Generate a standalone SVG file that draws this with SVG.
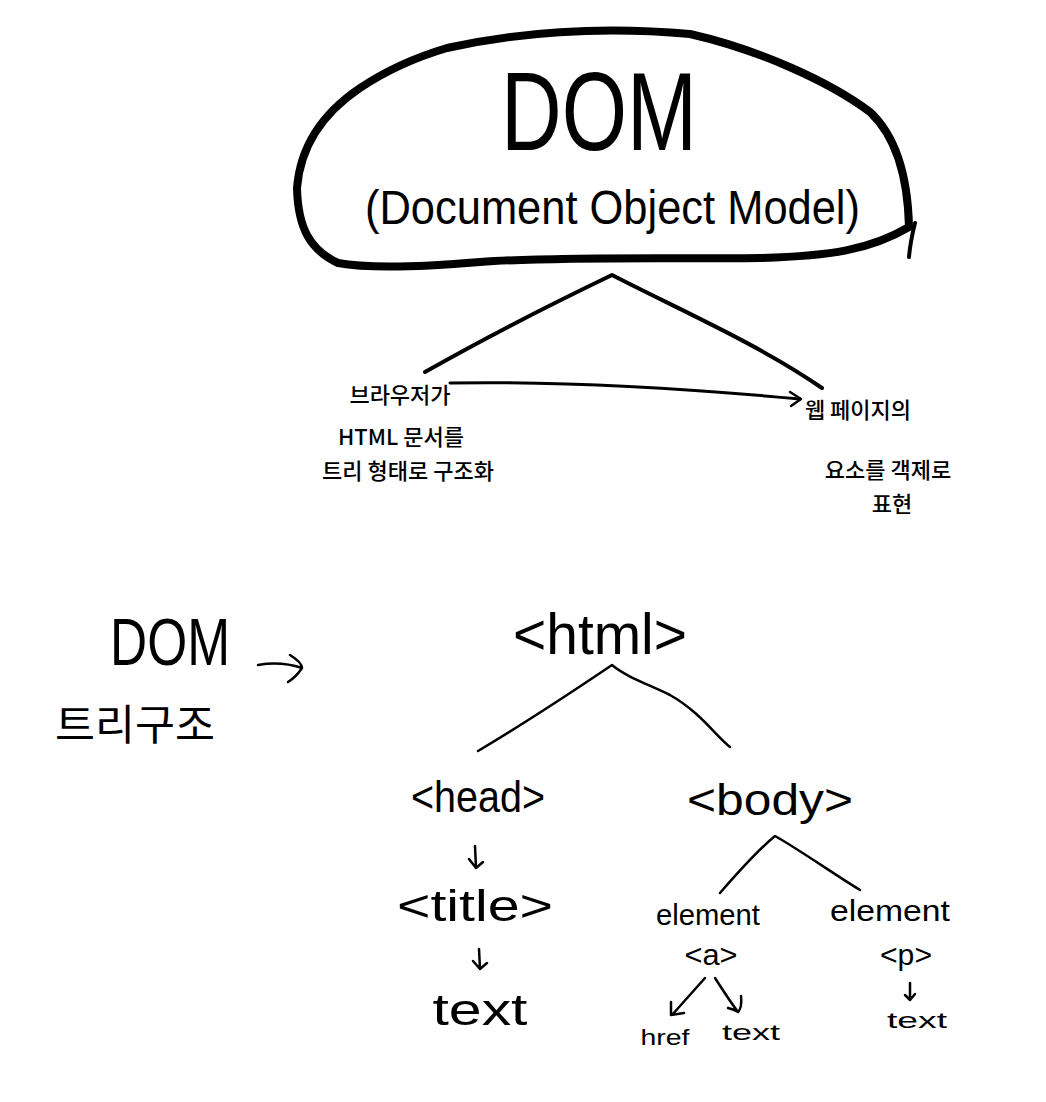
<svg xmlns="http://www.w3.org/2000/svg" width="1046" height="1102" viewBox="0 0 1046 1102">
<style>
.t{font-family:"Liberation Sans","Noto Sans CJK KR",sans-serif;fill:#000;}
.k{font-family:"Noto Sans CJK KR","Liberation Sans",sans-serif;fill:#000;font-weight:500;}
.k2{font-family:"Noto Sans CJK KR","Liberation Sans",sans-serif;fill:#000;font-weight:normal;}
.ln{fill:none;stroke:#000;stroke-linecap:round;stroke-linejoin:round;}
</style>
<rect width="1046" height="1102" fill="#fff"/>
<g id="dom-cloud">
<path class="ln" stroke-width="8" d="M447,48 C520,32 600,26 690,34 C760,50 830,82 870,112 C900,140 908,185 909,227 C870,250 830,256 760,258 C680,259 560,256 480,262 C420,267 370,269 338,263 C310,250 298,228 297,188 C300,150 320,115 360,88 C390,68 420,56 447,48 Z"/>
<path class="ln" stroke-width="4" d="M915,223 C912,235 910,245 909,257"/>
<text class="t" x="501" y="150" font-size="112" textLength="196" lengthAdjust="spacingAndGlyphs">DOM</text>
<text class="t" x="365" y="224" font-size="48" textLength="495" lengthAdjust="spacingAndGlyphs">(Document Object Model)</text>
</g>
<g id="left-desc">
<text class="k" x="400" y="403" font-size="22" text-anchor="middle">브라우저가</text>
<text class="k" x="401" y="445" font-size="22" text-anchor="middle">HTML 문서를</text>
<text class="k" x="408" y="479" font-size="22" text-anchor="middle">트리 형태로 구조화</text>
</g>
<g id="right-desc">
<text class="k" x="858" y="418" font-size="22" text-anchor="middle">웹 페이지의</text>
<text class="k" x="888" y="478" font-size="22" text-anchor="middle">요소를 객제로</text>
<text class="k" x="892" y="512" font-size="22" text-anchor="middle">표현</text>
</g>
<g id="dom-label">
<text class="t" x="110" y="665" font-size="66" textLength="120" lengthAdjust="spacingAndGlyphs">DOM</text>
<text class="k2" x="55" y="740" font-size="42" textLength="160" lengthAdjust="spacingAndGlyphs">트리구조</text>
</g>
<g id="n-html"><text class="t" x="600" y="654" font-size="58" text-anchor="middle" textLength="174" lengthAdjust="spacingAndGlyphs">&lt;html&gt;</text></g>
<g id="n-head"><text class="t" x="478" y="812" font-size="44" text-anchor="middle" textLength="134" lengthAdjust="spacingAndGlyphs">&lt;head&gt;</text></g>
<g id="n-body"><text class="t" x="770" y="815" font-size="44" text-anchor="middle" textLength="166" lengthAdjust="spacingAndGlyphs">&lt;body&gt;</text></g>
<g id="n-title"><text class="t" x="475" y="921" font-size="44" text-anchor="middle" textLength="156" lengthAdjust="spacingAndGlyphs">&lt;title&gt;</text></g>
<g id="n-text1"><text class="t" x="480" y="1025" font-size="44" text-anchor="middle" textLength="95" lengthAdjust="spacingAndGlyphs">text</text></g>
<g id="n-element-a">
<text class="t" x="708" y="925" font-size="30" text-anchor="middle" textLength="104" lengthAdjust="spacingAndGlyphs">element</text>
<text class="t" x="711" y="965" font-size="30" text-anchor="middle" textLength="53" lengthAdjust="spacingAndGlyphs">&lt;a&gt;</text>
</g>
<g id="n-element-p">
<text class="t" x="890" y="921" font-size="30" text-anchor="middle" textLength="120" lengthAdjust="spacingAndGlyphs">element</text>
<text class="t" x="906" y="965" font-size="30" text-anchor="middle" textLength="52" lengthAdjust="spacingAndGlyphs">&lt;p&gt;</text>
</g>
<g id="n-href"><text class="t" x="665" y="1045" font-size="22" text-anchor="middle" textLength="49" lengthAdjust="spacingAndGlyphs">href</text></g>
<g id="n-text2"><text class="t" x="751" y="1040" font-size="22" text-anchor="middle" textLength="58" lengthAdjust="spacingAndGlyphs">text</text></g>
<g id="n-text3"><text class="t" x="917" y="1028" font-size="22" text-anchor="middle" textLength="60" lengthAdjust="spacingAndGlyphs">text</text></g>
<g id="connectors">
<path class="ln" stroke-width="4" d="M425,372 C490,335 560,300 612,275 C680,310 760,345 822,388"/>
<path class="ln" stroke-width="3" d="M450,383 C560,381 680,388 800,399"/>
<path class="ln" stroke-width="2.5" d="M790,392 L801,399 L791,406"/>
<path class="ln" stroke-width="2.5" d="M258,665 C275,662 290,664 302,668 M290,655 C298,660 302,665 302,668 C298,674 293,679 288,682"/>
<path class="ln" stroke-width="2.5" d="M478,751 C530,720 575,690 612,665 C625,676 645,683 670,695 C700,712 715,735 730,747"/>
<path class="ln" stroke-width="2.5" d="M475,846 L476,868 M469,859 L476,868 L483,862"/>
<path class="ln" stroke-width="2.5" d="M479,949 L480,969 M473,961 L480,969 L487,963"/>
<path class="ln" stroke-width="2.5" d="M720,893 C740,870 758,850 775,836 C800,850 835,875 860,890"/>
<path class="ln" stroke-width="2.5" d="M705,978 L672,1015 M671,1002 L671,1015 L684,1013"/>
<path class="ln" stroke-width="2.5" d="M715,978 C724,992 732,1004 738,1012 M741,996 C742,1005 740,1010 738,1012 C735,1010 732,1009 728,1008"/>
<path class="ln" stroke-width="2.5" d="M910,983 L910,1000 M905,995 L910,1000 L915,994"/>
</g>
</svg>
